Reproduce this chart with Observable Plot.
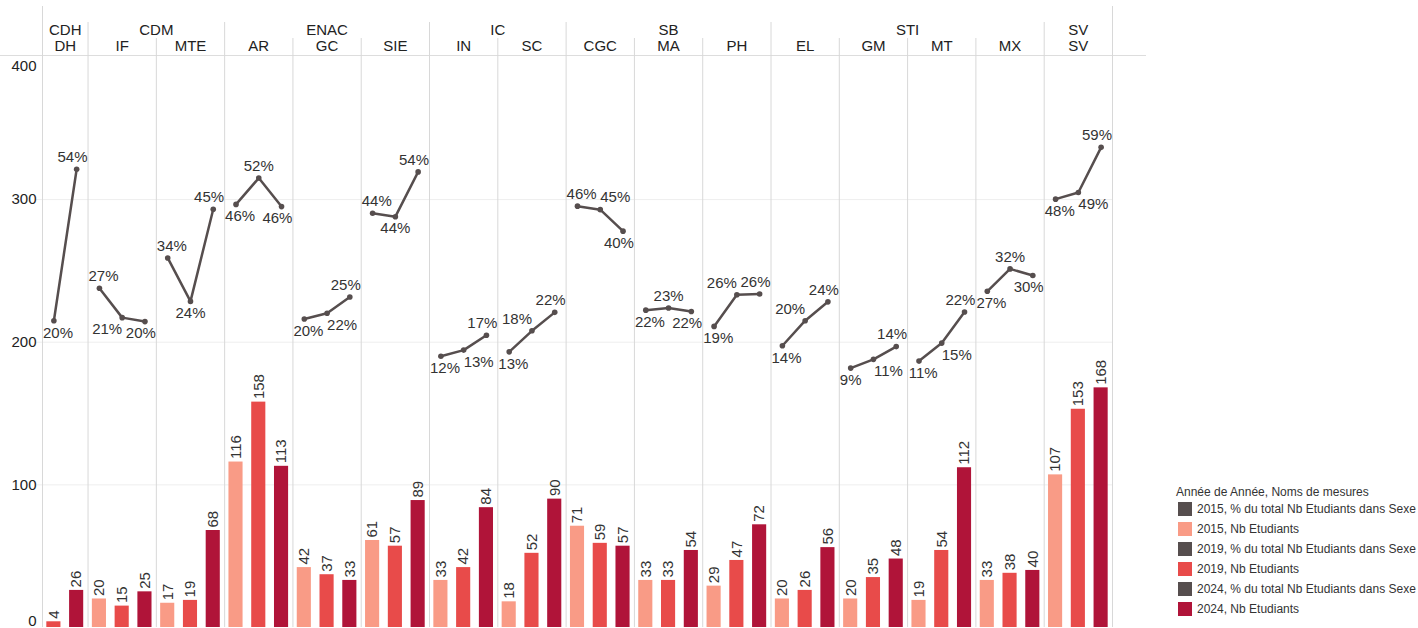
<!DOCTYPE html>
<html><head><meta charset="utf-8">
<script src="https://cdn.jsdelivr.net/npm/d3@7"></script>
<script src="https://cdn.jsdelivr.net/npm/@observablehq/plot@0.6"></script>
<style>
body{margin:0;background:#fff;font-family:Arial,"Liberation Sans",sans-serif;}
#wrap{position:relative;width:1418px;height:628px;overflow:hidden;background:#fff;}
#chart{position:absolute;left:0;top:0;}
#legend{position:absolute;left:1176px;top:485px;font-size:12px;color:#333;line-height:14px;}
#legend .title{margin-bottom:0px;white-space:nowrap;}
#legend .item{height:20px;display:flex;align-items:center;white-space:nowrap;}
#legend .sw{width:14px;height:14px;margin:0 5px 0 2px;flex:none;}
</style></head><body>
<div id="wrap"><div id="chart"></div><div id="legend"></div></div>
<script>
// ---- data ----
const faculties = ["CDH","CDM","ENAC","IC","SB","STI","SV"];
const sections = ["DH","IF","MTE","AR","GC","SIE","IN","SC","CGC","MA","PH","EL","GM","MT","MX","SV"];
const sectionFaculty = ["CDH","CDM","CDM","ENAC","ENAC","ENAC","IC","IC","SB","SB","SB","STI","STI","STI","STI","SV"];
const years = ["2015","2019","2024"];
const nb2015 = [null,20,17,116,42,61,33,18,71,33,29,20,20,19,33,107];
const nb2019 = [4,15,19,158,37,57,42,52,59,33,47,26,35,54,38,153];
const nb2024 = [26,25,68,113,33,89,84,90,57,54,72,56,48,112,40,168];
const pct2015 = [null,27.3,34.2,46.4,20.3,44.4,11.8,12.8,46.0,22.3,18.6,14.2,9.1,10.7,26.6,47.6];
const pct2019 = [19.9,20.6,24.3,52.4,21.6,43.6,13.2,17.6,45.2,22.8,25.8,19.9,11.1,14.8,31.7,49.1];
const pct2024 = [54.4,19.7,45.3,45.9,25.3,53.8,16.6,21.8,40.3,22.0,26.0,24.2,14.0,21.9,30.2,59.4];
const yTicks = [0,100,200,300,400];
const barColors = ["#f99b86","#e84b4a","#b01439"];
const lineColor = "#564e4e";
const legendItems = [
  ["2015, % du total Nb Etudiants dans Sexe", lineColor],
  ["2015, Nb Etudiants", barColors[0]],
  ["2019, % du total Nb Etudiants dans Sexe", lineColor],
  ["2019, Nb Etudiants", barColors[1]],
  ["2024, % du total Nb Etudiants dans Sexe", lineColor],
  ["2024, Nb Etudiants", barColors[2]]
];
const legendTitle = "Année de Année, Noms de mesures";

// ---- build table ----
const nbByYear = [nb2015, nb2019, nb2024];
const pctByYear = [pct2015, pct2019, pct2024];
const rows = [];
let k = 0;
sections.forEach((s, i) => {
  years.forEach((y, j) => {
    const nb = nbByYear[j][i];
    if (nb == null) return;
    rows.push({section: s, faculty: sectionFaculty[i], year: y, idx: k++, nb, pct: pctByYear[j][i]});
  });
});
const N = rows.length;

const W = 1146, H = 628, ML = 42, MR = 34, MT = 55, MB = 1;
const slotPx = (W - ML - MR) / N;
const pctY = p => (p + 50) * 400 / 130; // secondary axis mapped onto primary

const sectionInfo = sections.map((s, i) => {
  const r = rows.filter(d => d.section === s);
  return {name: s, faculty: sectionFaculty[i], first: r[0].idx, last: r[r.length - 1].idx, center: (r[0].idx + r[r.length - 1].idx) / 2};
});
const facultyInfo = faculties.map(f => {
  const r = rows.filter(d => d.faculty === f);
  return {name: f, center: (r[0].idx + r[r.length - 1].idx) / 2};
});
const sectionBounds = [], facultyBounds = [];
sectionInfo.forEach((s, i) => {
  if (i === 0) return;
  (s.faculty === sectionInfo[i - 1].faculty ? sectionBounds : facultyBounds).push(s.first - 0.5);
});
const outerBounds = [-0.5, N - 0.5];

// percent labels: above/below, shifted off the line, clamped within pane
const pctRows = [];
sectionInfo.forEach(s => {
  const r = rows.filter(d => d.section === s.name);
  r.forEach((d, i) => {
    let ref;
    if (i === 0) ref = r[1].pct;
    else if (i === r.length - 1) ref = r[i - 1].pct;
    else ref = (r[i - 1].pct + r[i + 1].pct) / 2;
    const above = d.pct > ref;
    const label = Math.round(d.pct) + "%";
    const w = (label.length - 1) * 8.34 + 13.34;
    const hw = (w / 2 + 0.5) / slotPx;
    let x = d.idx;
    if (i > 0 && i < r.length - 1) {
      const prev = r[i - 1].pct, next = r[i + 1].pct;
      const peak = d.pct > prev && d.pct > next, valley = d.pct < prev && d.pct < next;
      if (!(peak || valley)) {
        const rising = next > prev;
        const dir = above ? (rising ? -1 : 1) : (rising ? 1 : -1);
        x += dir * (w / 2) / slotPx;
      }
    }
    const lx = Math.max(s.first - 0.5 + hw, Math.min(s.last + 0.5 - hw, x));
    pctRows.push({...d, above, label, lx});
  });
});

const font = "Arial, 'Liberation Sans', sans-serif";
const plot = Plot.plot({
  width: W, height: H, marginLeft: ML, marginRight: MR, marginTop: MT, marginBottom: MB,
  x: {type: "linear", domain: [-0.5, N - 0.5], axis: null},
  y: {domain: [0, 401], axis: null},
  color: {domain: years, range: barColors},
  style: {fontFamily: font, fontSize: "15px", color: "#333", background: "#fff", overflow: "visible"},
  marks: [
    Plot.ruleY([100, 200, 300], {stroke: "#eeeeee", insetLeft: -6}),
    Plot.ruleY([401], {stroke: "#dddddd", insetLeft: -ML, insetRight: -MR}),
    Plot.ruleX(sectionBounds, {stroke: "#d8d8d8", insetTop: -17}),
    Plot.ruleX(facultyBounds, {stroke: "#d8d8d8", insetTop: -33}),
    Plot.ruleX(outerBounds, {stroke: "#d8d8d8", insetTop: -49}),
    Plot.rect(rows, {x1: d => d.idx - 0.31, x2: d => d.idx + 0.31, y1: 0, y2: "nb", fill: "year"}),
    Plot.text(rows, {x: "idx", y: "nb", text: d => String(d.nb), rotate: -90, textAnchor: "start", lineAnchor: "middle", dy: -3, fill: "#333"}),
    Plot.line(pctRows, {x: "idx", y: d => pctY(d.pct), z: "section", stroke: lineColor, strokeWidth: 2.5}),
    Plot.dot(pctRows, {x: "idx", y: d => pctY(d.pct), r: 2.8, fill: lineColor}),
    Plot.text(pctRows.filter(d => d.above), {x: "lx", y: d => pctY(d.pct), text: "label", dy: -12, lineAnchor: "middle", fill: "#333"}),
    Plot.text(pctRows.filter(d => !d.above), {x: "lx", y: d => pctY(d.pct), text: "label", dy: 12, lineAnchor: "middle", fill: "#333"}),
    Plot.text(sectionInfo, {x: "center", frameAnchor: "top", text: "name", dy: -9.5, lineAnchor: "middle", fill: "#222"}),
    Plot.text(facultyInfo, {x: "center", frameAnchor: "top", text: "name", dy: -25, lineAnchor: "middle", fill: "#222"}),
    Plot.text(yTicks.filter(t => t > 0 && t < 400), {y: d => d, frameAnchor: "left", textAnchor: "end", dx: -6, text: d => String(d), lineAnchor: "middle", fill: "#222"}),
    Plot.text(yTicks.filter(t => t === 400), {y: d => d, frameAnchor: "left", textAnchor: "end", dx: -6, dy: 9, text: d => String(d), lineAnchor: "middle", fill: "#222"}),
    Plot.text(yTicks.filter(t => t === 0), {y: d => d, frameAnchor: "left", textAnchor: "end", dx: -6, dy: -6, text: d => String(d), lineAnchor: "middle", fill: "#222"})
  ]
});
document.getElementById("chart").appendChild(plot);

const lg = document.getElementById("legend");
const t = document.createElement("div");
t.className = "title"; t.textContent = legendTitle; lg.appendChild(t);
legendItems.forEach(([label, c]) => {
  const it = document.createElement("div"); it.className = "item";
  const sw = document.createElement("span"); sw.className = "sw"; sw.style.background = c;
  const tx = document.createElement("span"); tx.textContent = label;
  it.appendChild(sw); it.appendChild(tx); lg.appendChild(it);
});
</script>
</body></html>
